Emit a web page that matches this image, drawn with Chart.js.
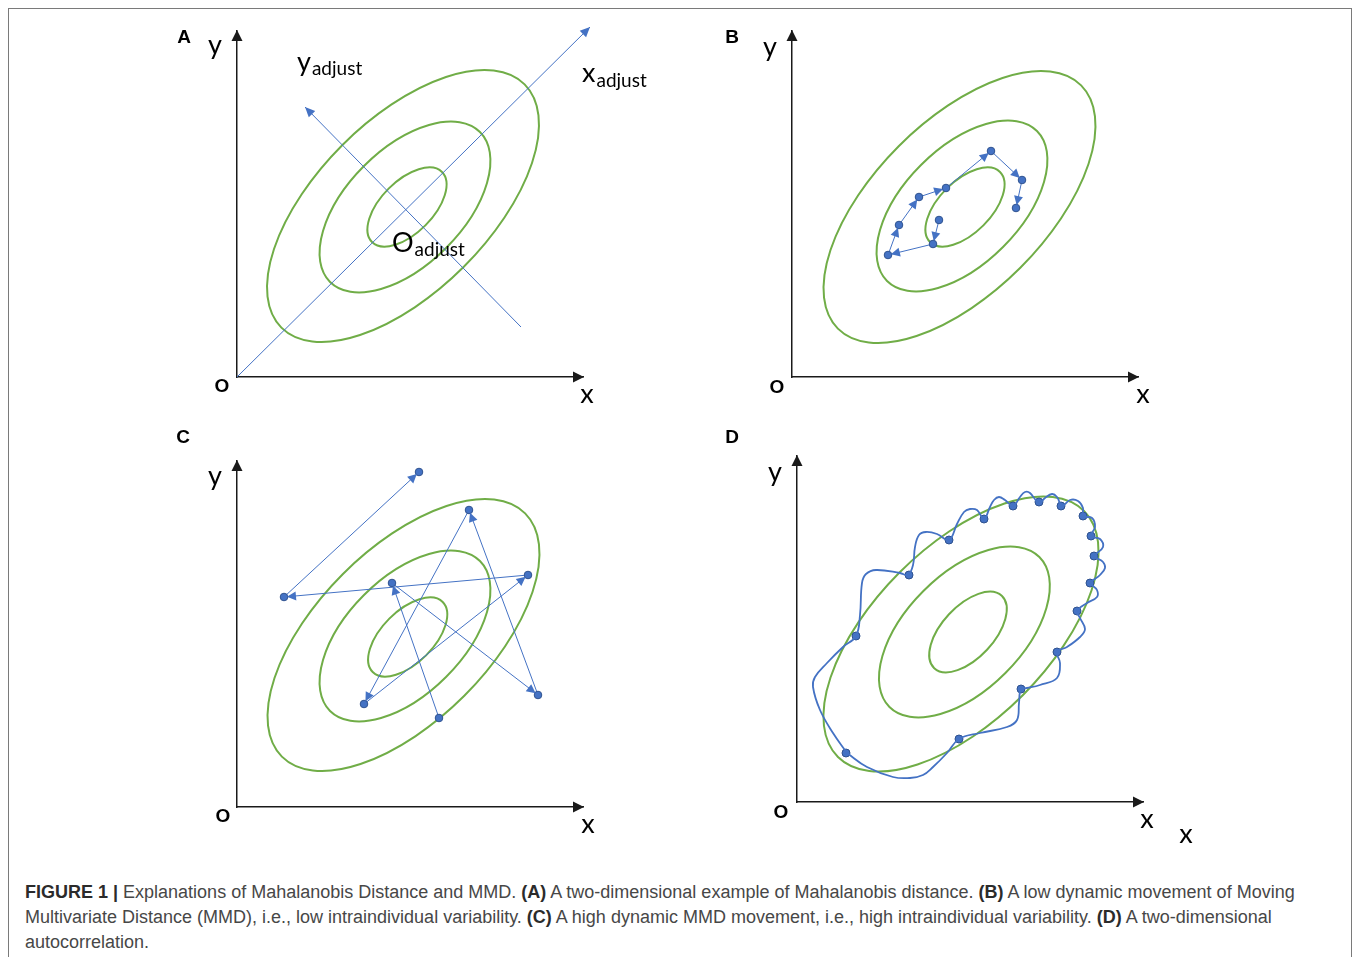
<!DOCTYPE html>
<html><head><meta charset="utf-8">
<script src="https://cdn.jsdelivr.net/npm/chart.js@4.4.1/dist/chart.umd.min.js"></script>
<style>
html,body{margin:0;padding:0;width:1357px;height:957px;overflow:hidden;background:#fff;}
#frame{position:absolute;left:8px;top:8px;width:1344px;height:1000px;border:1px solid #7a7a7a;box-sizing:border-box;}
canvas{position:absolute;}
#caption{position:absolute;left:25px;top:880px;font-family:"Liberation Sans",Arial,sans-serif;font-size:18px;line-height:25px;color:#474747;white-space:nowrap;}
#caption b{color:#2b2b2b;}
</style></head><body>
<div id="frame"></div>
<canvas id="cA" width="540" height="440" style="left:157px;top:-3px"></canvas>
<canvas id="cB" width="540" height="440" style="left:712px;top:-3px"></canvas>
<canvas id="cC" width="540" height="440" style="left:157px;top:427px"></canvas>
<canvas id="cD" width="540" height="440" style="left:717px;top:422px"></canvas>
<div id="caption"><b>FIGURE 1 |</b> Explanations of Mahalanobis Distance and MMD. <b>(A)</b> A two-dimensional example of Mahalanobis distance. <b>(B)</b> A low dynamic movement of Moving<br>Multivariate Distance (MMD), i.e., low intraindividual variability. <b>(C)</b> A high dynamic MMD movement, i.e., high intraindividual variability. <b>(D)</b> A two-dimensional<br>autocorrelation.</div>
<script>
// ---------- data (axis units; origin O = 0,0) ----------
const AXIS_MAX = 346;

// ellipses: [centerX, centerY, semiMajor, semiMinor, angleDeg]
const ellipsesA = [[166,171,172,86,45],[168,170,106,58,45],[170,170,49.5,26,45]];
const ellipsesB = [[167.5,170,172,86,45],[170,171,106,58,45],[173,170,49.5,26,45]];
const ellipsesC = [[166.5,172,172,86,45],[168,171,106,58,45],[170.7,170,49.5,26,45]];
const ellipsesD = [[164,168,174,87,45],[167.4,170,106,58,45],[171,170,49.5,26,47]];

// panel A: adjusted axes
const xAdjustX = [0, 353];
const xAdjustY = [0, 350];
const yAdjustX = [284, 68];
const yAdjustY = [50, 270];

// panel B: low dynamic movement path
const pathBX = [147,141,96,107,127,154,199,230,224];
const pathBY = [157,133,122,152,180,189,226,197,169];

// panel C: high dynamic movement path
const pathCX = [202,155,301,232,127,291,47,182];
const pathCY = [89,224,112,297,103,232,210,335];

// panel D: observations and autocorrelation curve
const dotsDX = [49,59,112,152,187,216,242,264,286,294,297,293,280,260,224,162];
const dotsDY = [49,166,227,262,283,296,300,296,286,266,246,219,191,150,113,63];
const curveDX = [50,36,23,16,18,30,46,59,63,65,69,79,103,111,116,118,122,129,140,152,160,167,173,180,187,193,197,202,208,216,223,228,233,242,248,255,260,265,273,281,286,286,295,298,294,303,306,298,306,308,303,294,300,300,290,280,283,288,283,270,260,263,260,243,230,224,222,220,210,183,162,150,136,126,113,96,70,50];
const curveDY = [49,69,92,115,125,139,155,166,187,219,228,232,229,227,237,255,267,270,268,262,278,290,293,292,283,295,302,305,302,296,305,310,309,299,304,308,305,296,302,301,294,286,284,275,266,263,255,246,240,234,227,219,212,205,199,191,184,173,165,155,150,139,124,117,114,113,99,82,75,69,63,49,35,27,24,25,35,49];

// ---------- styles ----------
const BLUE = '#4472C4', BLUE_EDGE = '#2F528F', GREEN = '#70AD47', AXIS = '#1a1a1a';
const toPts = (xs, ys) => xs.map((v, i) => ({x: v, y: ys[i]}));

const figurePlugin = {
  id: 'figure',
  beforeDatasetsDraw(chart, args, o) {
    const {ctx, scales: {x, y}} = chart;
    const kx = x.getPixelForValue(1) - x.getPixelForValue(0);
    const ky = y.getPixelForValue(0) - y.getPixelForValue(1);
    ctx.save();
    ctx.strokeStyle = GREEN; ctx.lineWidth = 2;
    (o.ellipses || []).forEach(e => {
      ctx.beginPath();
      ctx.ellipse(x.getPixelForValue(e[0]), y.getPixelForValue(e[1]), e[2] * kx, e[3] * ky, -e[4] * Math.PI / 180, 0, Math.PI * 2);
      ctx.stroke();
    });
    ctx.restore();
  },
  afterDatasetsDraw(chart) {
    const ctx = chart.ctx;
    chart.data.datasets.forEach((ds, i) => {
      if (!ds.arrow) return;
      const pts = chart.getDatasetMeta(i).data;
      ctx.save();
      ctx.fillStyle = ds.borderColor;
      for (let j = 1; j < pts.length; j++) {
        const a = pts[j - 1], b = pts[j];
        const ang = Math.atan2(b.y - a.y, b.x - a.x);
        const tx = b.x - Math.cos(ang) * ds.arrow.back, ty = b.y - Math.sin(ang) * ds.arrow.back;
        drawHead(ctx, tx, ty, ang, ds.arrow.len, ds.arrow.half);
      }
      ctx.restore();
    });
  },
  afterDraw(chart, args, o) {
    const {ctx, scales: {x, y}} = chart;
    const ox = x.getPixelForValue(0), oy = y.getPixelForValue(0);
    ctx.save();
    ctx.fillStyle = AXIS;
    drawHead(ctx, x.getPixelForValue(AXIS_MAX) + 1, oy, 0, 11, 5.5);
    drawHead(ctx, ox, y.getPixelForValue(AXIS_MAX) - 1, -Math.PI / 2, 11, 5.5);
    ctx.fillStyle = '#000';
    ctx.textBaseline = 'alphabetic';
    (o.labels || []).forEach(l => {
      ctx.font = l.font; ctx.textAlign = l.align || 'center';
      ctx.fillText(l.t, ox + l.dx, oy + l.dy);
    });
    (o.subLabels || []).forEach(l => {
      ctx.textAlign = 'left';
      ctx.font = l.mainFont;
      ctx.fillText(l.main, ox + l.dx, oy + l.dy);
      const w = ctx.measureText(l.main).width;
      ctx.font = l.subFont;
      ctx.fillText(l.sub, ox + l.dx + w + 1, oy + l.subDy);
    });
    ctx.restore();
  }
};
function drawHead(ctx, tx, ty, ang, len, half) {
  const bx = tx - Math.cos(ang) * len, by = ty - Math.sin(ang) * len;
  const px = -Math.sin(ang) * half, py = Math.cos(ang) * half;
  ctx.beginPath();
  ctx.moveTo(tx, ty);
  ctx.lineTo(bx + px, by + py);
  ctx.lineTo(bx - px, by - py);
  ctx.closePath();
  ctx.fill();
}

const LETTER = 'bold 19px "Liberation Sans", Arial, sans-serif';
const AXLBL = '27px Lato, "Open Sans", sans-serif';
const OFONT = 'bold 19px "Liberation Sans", Arial, sans-serif';
const MAINF = '27px Lato, sans-serif';
const SUBF = '19px Lato, sans-serif';

function axisScale() {
  return {type: 'linear', min: 0, max: AXIS_MAX, display: true,
    grid: {display: false, drawTicks: false}, ticks: {display: false},
    border: {display: true, color: AXIS, width: 1.5}};
}
function makeChart(id, datasets, fig) {
  return new Chart(document.getElementById(id), {
    type: 'scatter',
    data: {datasets},
    options: {
      responsive: false, animation: false, devicePixelRatio: 1,
      layout: {padding: {left: 80, top: 34, right: 114, bottom: 60}},
      scales: {x: axisScale(), y: axisScale()},
      plugins: {legend: {display: false}, tooltip: {enabled: false}, figure: fig},
      events: []
    },
    plugins: [figurePlugin]
  });
}
function pathDataset(xs, ys, r) {
  return {data: toPts(xs, ys), showLine: true, borderColor: BLUE, borderWidth: 1,
    pointRadius: r, pointBackgroundColor: BLUE, pointBorderColor: BLUE_EDGE, pointBorderWidth: 1,
    clip: false, tension: 0, arrow: {len: 9, half: 4.5, back: 3}};
}

// Panel A
makeChart('cA', [
  {data: toPts(xAdjustX, xAdjustY), showLine: true, borderColor: BLUE, borderWidth: 1, pointRadius: 0, clip: false, arrow: {len: 10, half: 4.5, back: 0}},
  {data: toPts(yAdjustX, yAdjustY), showLine: true, borderColor: BLUE, borderWidth: 1, pointRadius: 0, clip: false, arrow: {len: 10, half: 4.5, back: 0}}
], {
  ellipses: ellipsesA,
  labels: [
    {t: 'A', dx: -53, dy: -334, font: LETTER},
    {t: 'y', dx: -22, dy: -323, font: AXLBL},
    {t: 'O', dx: -15, dy: 15, font: OFONT},
    {t: 'x', dx: 350, dy: 26, font: AXLBL}
  ],
  subLabels: [
    {main: 'y', sub: 'adjust', dx: 60, dy: -306, subDy: -302, mainFont: MAINF, subFont: SUBF},
    {main: 'x', sub: 'adjust', dx: 345, dy: -295, subDy: -290, mainFont: MAINF, subFont: SUBF},
    {main: 'O', sub: 'adjust', dx: 155, dy: -125, subDy: -121, mainFont: MAINF, subFont: SUBF}
  ]
});

// Panel B
makeChart('cB', [pathDataset(pathBX, pathBY, 3.8)], {
  ellipses: ellipsesB,
  labels: [
    {t: 'B', dx: -60, dy: -334, font: LETTER},
    {t: 'y', dx: -22, dy: -321, font: AXLBL},
    {t: 'O', dx: -15, dy: 16, font: OFONT},
    {t: 'x', dx: 351, dy: 26, font: AXLBL}
  ]
});

// Panel C
makeChart('cC', [pathDataset(pathCX, pathCY, 3.8)], {
  ellipses: ellipsesC,
  labels: [
    {t: 'C', dx: -54, dy: -364, font: LETTER},
    {t: 'y', dx: -22, dy: -322, font: AXLBL},
    {t: 'O', dx: -14, dy: 15, font: OFONT},
    {t: 'x', dx: 351, dy: 26, font: AXLBL}
  ]
});

// Panel D
makeChart('cD', [
  {data: toPts(curveDX, curveDY), showLine: true, borderColor: BLUE, borderWidth: 1.8, pointRadius: 0, tension: 0.4, clip: false},
  {data: toPts(dotsDX, dotsDY), showLine: false, pointRadius: 4, pointBackgroundColor: BLUE, pointBorderColor: BLUE_EDGE, pointBorderWidth: 1, clip: false}
], {
  ellipses: ellipsesD,
  labels: [
    {t: 'D', dx: -65, dy: -359, font: LETTER},
    {t: 'y', dx: -22, dy: -321, font: AXLBL},
    {t: 'O', dx: -16, dy: 16, font: OFONT},
    {t: 'x', dx: 350, dy: 26, font: AXLBL},
    {t: 'x', dx: 389, dy: 41, font: AXLBL}
  ]
});
</script>
</body></html>
